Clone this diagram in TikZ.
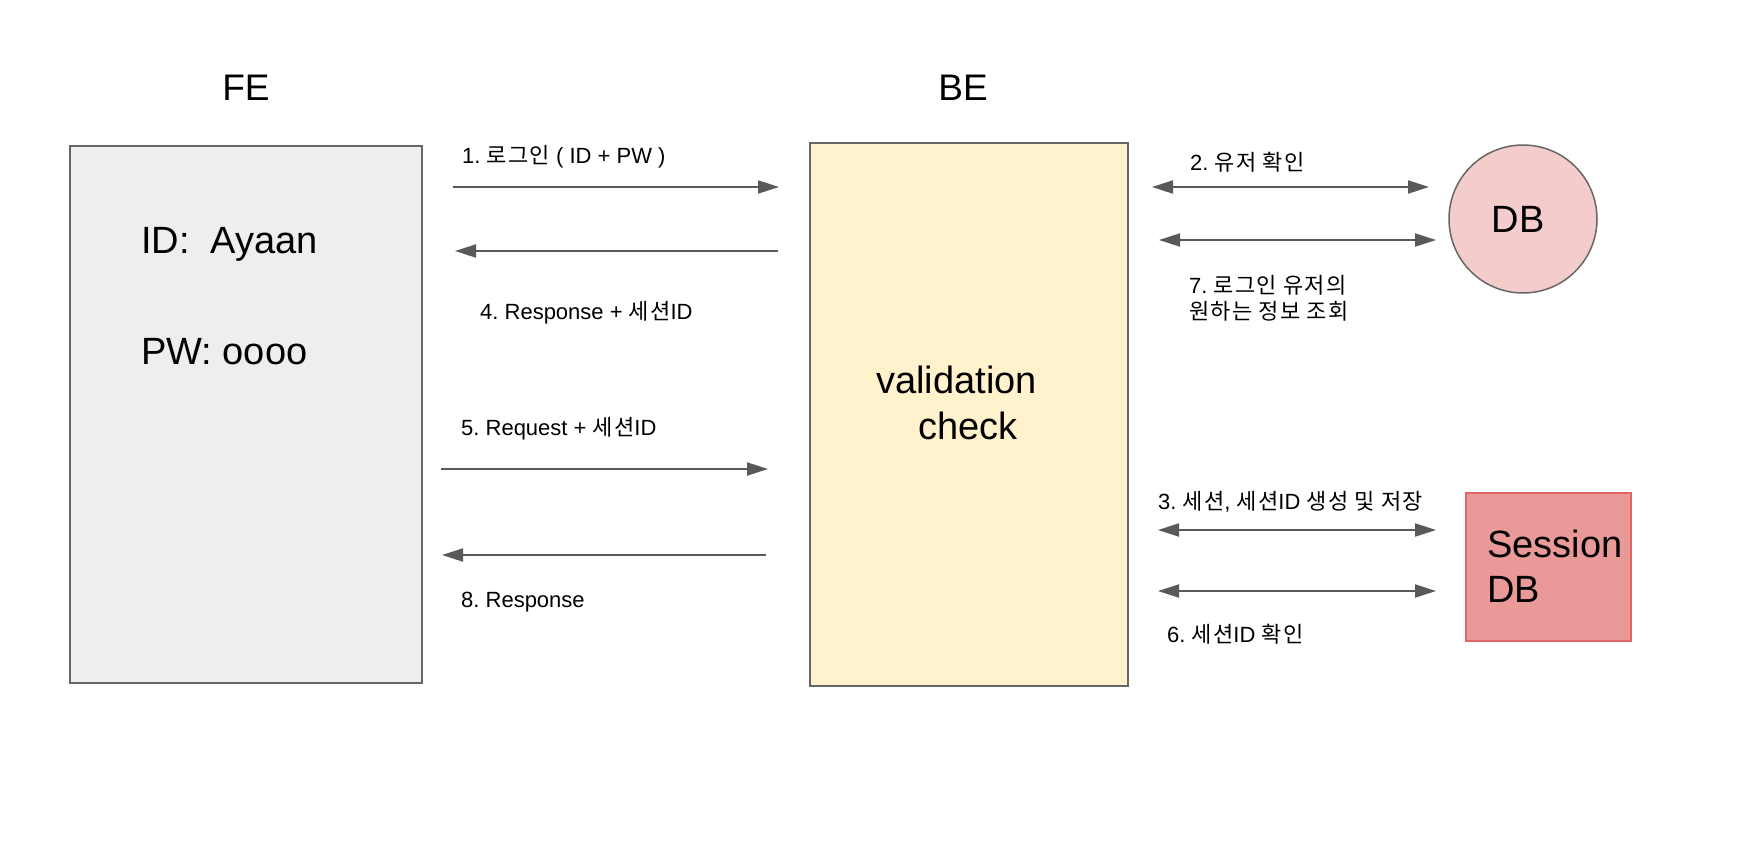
\documentclass[tikz,border=0pt]{standalone}
\usepackage{fontspec}
\setmainfont{Liberation Sans}
\newfontfamily\kr[LetterSpace=6]{Noto Sans CJK KR}
\usetikzlibrary{arrows.meta}
\frenchspacing
\definecolor{arrgray}{HTML}{595959}
\definecolor{boxgray}{HTML}{666666}
\definecolor{fefill}{HTML}{EEEEEE}
\definecolor{befill}{HTML}{FFF2CC}
\definecolor{dbfill}{HTML}{F4CCCC}
\definecolor{sdbfill}{HTML}{EA9999}
\definecolor{sdbdraw}{HTML}{E06666}
\tikzset{
  big/.style={inner sep=0pt, font=\fontsize{38}{46}\selectfont},
  title/.style={inner sep=0pt, font=\fontsize{37}{46}\selectfont},
  lbl/.style={inner sep=0pt, anchor=base west, font=\fontsize{22}{26}\selectfont\frenchspacing, align=left},
  arr/.style={draw=arrgray, line width=2pt, -{Triangle[length=21pt,width=13pt]}},
  darr/.style={draw=arrgray, line width=2pt, {Triangle[length=21pt,width=13pt]}-{Triangle[length=21pt,width=13pt]}},
  boxshape/.style={draw=boxgray, line width=1.5pt, inner sep=0pt},
}
\begin{document}
\begin{tikzpicture}[x=1pt,y=-1pt]
\useasboundingbox (0,0) rectangle (1737,849);
% boxes
\path[boxshape, fill=fefill] (70,146) rectangle (422,683);
\node[inner sep=0pt, minimum width=352pt, minimum height=537pt] (fe) at (246,414.5) {};
\path[boxshape, fill=befill] (810,143) rectangle (1128,686);
\node[inner sep=0pt, minimum width=318pt, minimum height=543pt] (be) at (969,414.5) {};
\node[boxshape, fill=dbfill, circle, minimum size=148pt] (db) at (1523,219) {};
\path[draw=sdbdraw, line width=2pt, fill=sdbfill] (1466,493) rectangle (1631,641);
\node[inner sep=0pt, minimum width=165pt, minimum height=148pt] (sdb) at (1548.5,567) {};
% big texts
\node[title, anchor=base] (felbl) at (246,100) {FE};
\node[title, anchor=base] (belbl) at (963,100) {BE};
\node[big, anchor=base west] (idtxt) at (141,253) {ID:\ \ Ayaan};
\node[big, anchor=base west] (pwtxt) at (141,364) {PW: oooo};
\node[big, anchor=base west] (val) at (876,393) {validation};
\node[big, anchor=base west] (chk) at (918,439) {check};
\node[big, anchor=base] (dbtxt) at (1518,232) {DB};
\node[big, anchor=base west] (sdbt1) at (1487,557) {Session};
\node[big, anchor=base west] (sdbt2) at (1487,602) {DB};
% arrow end points
\coordinate (a1s) at (453,187); \coordinate (a1e) at (779,187);
\coordinate (a4s) at (778,251); \coordinate (a4e) at (455,251);
\coordinate (a5s) at (441,469); \coordinate (a5e) at (768,469);
\coordinate (a8s) at (766,555); \coordinate (a8e) at (442,555);
\coordinate (a2s) at (1152,187); \coordinate (a2e) at (1429,187);
\coordinate (a7s) at (1159,240); \coordinate (a7e) at (1436,240);
\coordinate (a3s) at (1158,530); \coordinate (a3e) at (1436,530);
\coordinate (a6s) at (1158,591); \coordinate (a6e) at (1436,591);
\draw[arr] (a1s) -- (a1e);
\draw[arr] (a4s) -- (a4e);
\draw[arr] (a5s) -- (a5e);
\draw[arr] (a8s) -- (a8e);
\draw[darr] (a2s) -- (a2e);
\draw[darr] (a7s) -- (a7e);
\draw[darr] (a3s) -- (a3e);
\draw[darr] (a6s) -- (a6e);
% labels
\node[lbl] (l1) at (462,163) {1. {\kr 로그인} ( ID + PW )};
\node[lbl] (l4) at (480,319) {4. Response + {\kr 세션}ID};
\node[lbl] (l5) at (461,435) {5. Request + {\kr 세션}ID};
\node[lbl] (l8) at (461,607) {8. Response};
\node[lbl] (l2) at (1190,170) {2. {\kr 유저 확인}};
\node[lbl] (l7) at (1189,319) {7. {\kr 로그인 유저의}\\{\kr 원하는 정보 조회}};
\node[lbl] (l3) at (1158,509) {3. {\kr 세션}, {\kr 세션}ID {\kr 생성 및 저장}};
\node[lbl] (l6) at (1167,642) {6. {\kr 세션}ID {\kr 확인}};
\end{tikzpicture}
\end{document}
